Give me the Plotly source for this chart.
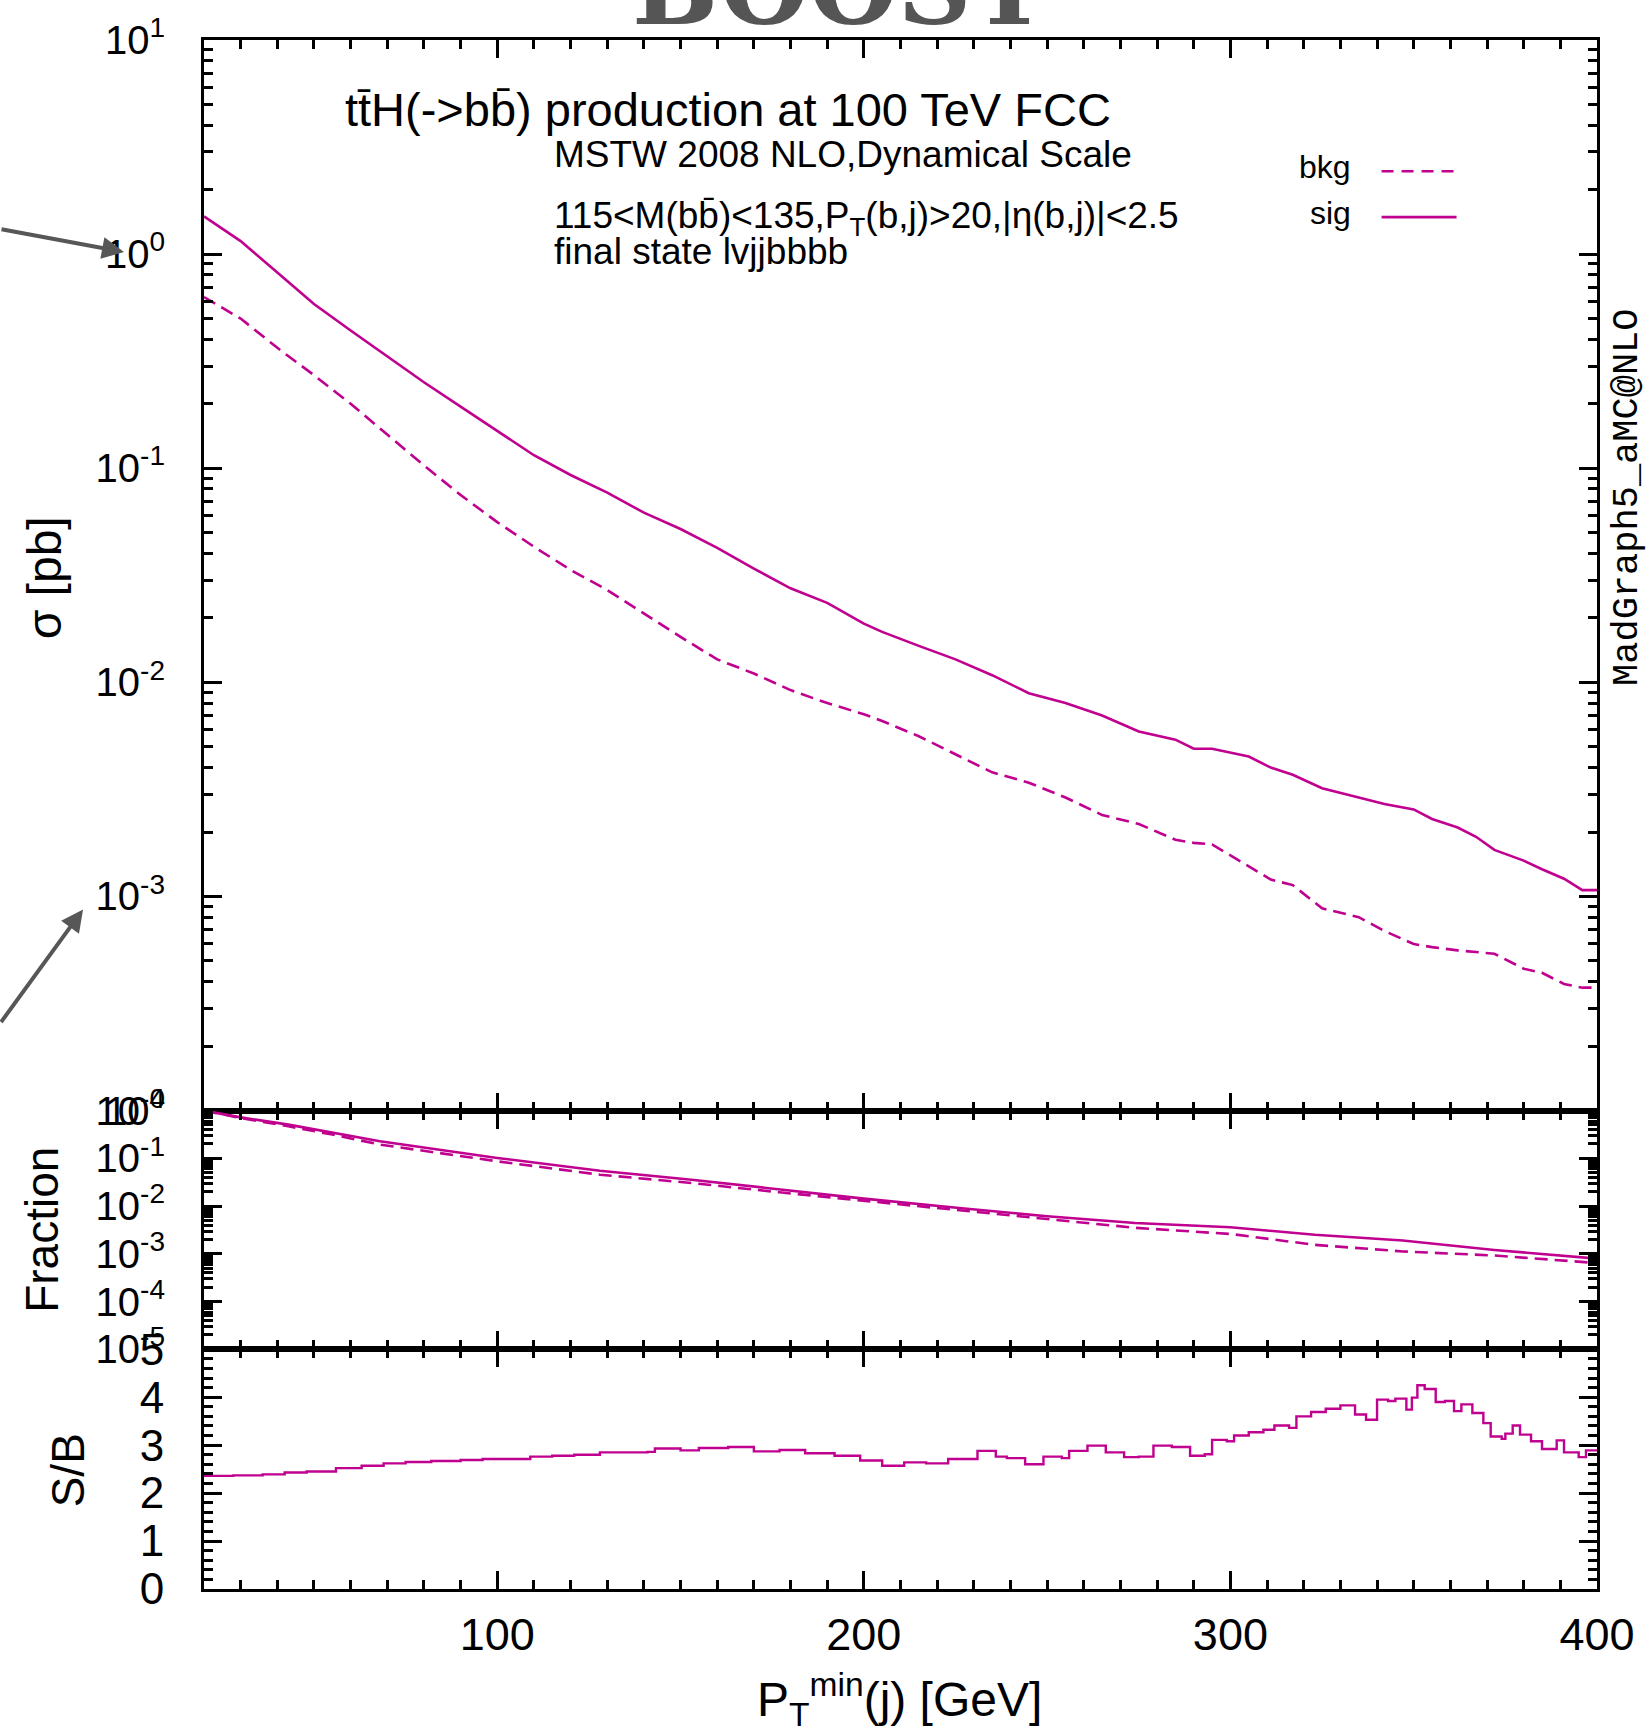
import plotly.graph_objects as go
from plotly.subplots import make_subplots

# ---------------- data ----------------
pt_main = [20, 30, 40, 50, 60, 70, 80, 90, 100, 110, 120, 130, 140, 150, 160, 170, 180, 190, 200,
           205, 215, 225, 235, 245, 255, 265, 275, 285, 290, 295, 305, 311, 317, 325, 335, 342,
           350, 355, 362, 367, 372, 380, 385, 391, 396, 400]
sig_xs = [1.50, 1.15, 0.82, 0.585, 0.44, 0.333, 0.252, 0.194, 0.149, 0.115, 0.093, 0.077, 0.062,
          0.052, 0.0425, 0.034, 0.0275, 0.0235, 0.0188,
          0.0172, 0.0148, 0.0128, 0.0108, 0.0089, 0.0080, 0.0070, 0.0059, 0.0054, 0.0049, 0.0049,
          0.0045, 0.0040, 0.0037, 0.0032, 0.0029, 0.0027, 0.00255, 0.0023, 0.0021, 0.0019,
          0.00165, 0.00147, 0.00134, 0.00121, 0.00107, 0.00107]
bkg_xs = [0.63, 0.50, 0.365, 0.272, 0.200, 0.143, 0.103, 0.075, 0.056, 0.043, 0.0335, 0.027, 0.021,
          0.0163, 0.0128, 0.0110, 0.0092, 0.0080, 0.0071,
          0.0066, 0.0056, 0.0046, 0.0038, 0.0034, 0.0029, 0.0024, 0.00218, 0.00184, 0.00178,
          0.00175, 0.00139, 0.00120, 0.00113, 0.00088, 0.00080, 0.00069, 0.00060, 0.00058,
          0.00056, 0.00055, 0.00054, 0.00046, 0.00044, 0.00039, 0.000375, 0.000375]

pt_frac = [20, 30, 43, 55, 68, 100, 128, 153, 177, 200, 226, 250, 274, 300, 323, 347, 372, 400]
sig_frac = [1.0, 0.72, 0.508, 0.34, 0.227, 0.1016, 0.055, 0.0356, 0.022, 0.0143, 0.0091, 0.0061,
            0.0044, 0.0036, 0.0025, 0.0019, 0.0012, 0.00079]
bkg_frac = [1.0, 0.70, 0.469, 0.314, 0.194, 0.0865, 0.0454, 0.0304, 0.0194, 0.0129, 0.0080, 0.0052,
            0.0035, 0.0026, 0.00154, 0.00112, 0.00092, 0.00064]

pt_sb = [20, 28, 36, 42, 48, 56, 63, 69, 75, 82, 90, 96, 102, 109, 115, 121, 128, 135, 141, 143,
         150, 155, 163, 170, 177, 184, 192, 199, 205, 211, 217, 223, 231, 236, 239, 244, 249, 254,
         256, 261, 266, 271, 275, 279, 284, 289, 293, 295, 299, 301, 305, 309, 312, 316, 318, 322,
         326, 330, 334, 337, 340, 343, 345, 348, 349.5, 351, 353, 356, 358.5, 361, 363, 366, 369,
         371, 374, 375, 377, 379, 382, 385, 389, 391, 395, 397, 400]
s_over_b = [2.36, 2.37, 2.39, 2.43, 2.45, 2.52, 2.57, 2.62, 2.65, 2.67, 2.69, 2.71, 2.71, 2.76,
            2.78, 2.80, 2.85, 2.85, 2.86, 2.93, 2.89, 2.94, 2.96, 2.87, 2.90, 2.83, 2.78, 2.68,
            2.57, 2.64, 2.62, 2.71, 2.88, 2.76, 2.73, 2.60, 2.76, 2.73, 2.88, 2.99, 2.85, 2.75,
            2.76, 2.99, 2.96, 2.78, 2.81, 3.11, 3.08, 3.20, 3.27, 3.32, 3.41, 3.36, 3.60, 3.69,
            3.76, 3.83, 3.64, 3.53, 3.95, 3.92, 3.97, 3.74, 3.99, 4.25, 4.17, 3.90, 3.92, 3.71,
            3.85, 3.67, 3.46, 3.18, 3.13, 3.24, 3.41, 3.22, 3.08, 2.92, 3.10, 2.85, 2.75, 2.89,
            2.89]

main_tickvals = [1e-4, 1e-3, 1e-2, 1e-1, 1, 10]
main_ticktext = ["10<sup>-4</sup>", "10<sup>-3</sup>", "10<sup>-2</sup>", "10<sup>-1</sup>",
                 "10<sup>0</sup>", "10<sup>1</sup>"]
frac_tickvals = [1e-5, 1e-4, 1e-3, 1e-2, 1e-1, 1]
frac_ticktext = ["10<sup>-5</sup>", "10<sup>-4</sup>", "10<sup>-3</sup>", "10<sup>-2</sup>",
                 "10<sup>-1</sup>", "10<sup>0</sup>"]
sb_tickvals = [0, 1, 2, 3, 4, 5]
x_tickvals = [100, 200, 300, 400]

# ---------------- style ----------------
MAG = "#C0008F"
FONT = "Liberation Sans, Arial, Helvetica, sans-serif"
W, H = 1651, 1736
L, R, T, B = 204, 1597.5, 36.5, 1589
PW, PH = R - L, B - T


def px(x):
    return (x - L) / PW


def py(y):
    return 1 - (y - T) / PH


fig = make_subplots(rows=3, cols=1, shared_xaxes=True, vertical_spacing=0,
                    row_heights=[1073, 239.2, 240.3])

fig.add_trace(go.Scatter(x=pt_main, y=bkg_xs, mode="lines", name="bkg",
                         line=dict(color=MAG, width=2.6, dash="13px,7px"), showlegend=False),
              row=1, col=1)
fig.add_trace(go.Scatter(x=pt_main, y=sig_xs, mode="lines", name="sig",
                         line=dict(color=MAG, width=2.6), showlegend=False), row=1, col=1)
fig.add_trace(go.Scatter(x=pt_frac, y=bkg_frac, mode="lines", name="bkg fraction",
                         line=dict(color=MAG, width=2.6, dash="13px,7px"), showlegend=False),
              row=2, col=1)
fig.add_trace(go.Scatter(x=pt_frac, y=sig_frac, mode="lines", name="sig fraction",
                         line=dict(color=MAG, width=2.6), showlegend=False), row=2, col=1)
fig.add_trace(go.Scatter(x=pt_sb, y=s_over_b, mode="lines", name="S/B", line_shape="hv",
                         line=dict(color=MAG, width=2.4), showlegend=False), row=3, col=1)

axis_common = dict(showline=True, linecolor="black", linewidth=3, mirror="ticks",
                   ticks="inside", tickcolor="black", tickwidth=2.5, showgrid=False,
                   zeroline=False)

minor_main = [m * 10 ** e for e in range(-4, 1) for m in range(2, 10)]
minor_frac = [m * 10 ** e for e in range(-5, 0) for m in range(2, 10)]

for r in (1, 2, 3):
    fig.update_xaxes(range=[20, 400], tickmode="array", tickvals=x_tickvals,
                     ticklen=18, minor=dict(dtick=10, tick0=0, ticks="inside", ticklen=9,
                                            tickwidth=2.5, tickcolor="black"),
                     showticklabels=(r == 3), ticklabelstandoff=4,
                     tickfont=dict(family=FONT, size=45, color="black"),
                     row=r, col=1, **axis_common)

yfont = dict(family=FONT, size=40, color="black")
fig.update_yaxes(type="log", range=[-4, 1], tickmode="array", tickvals=main_tickvals,
                 ticktext=main_ticktext, ticklen=18, ticklabelstandoff=28, tickfont=yfont,
                 minor=dict(tickmode="array", tickvals=minor_main, ticks="inside", ticklen=9,
                            tickwidth=2.5, tickcolor="black"),
                 row=1, col=1, **axis_common)
fig.update_yaxes(type="log", range=[-5, 0], tickmode="array", tickvals=frac_tickvals,
                 ticktext=frac_ticktext, ticklen=18, ticklabelstandoff=28, tickfont=yfont,
                 minor=dict(tickmode="array", tickvals=minor_frac, ticks="inside", ticklen=9,
                            tickwidth=2.5, tickcolor="black"),
                 row=2, col=1, **axis_common)
fig.update_yaxes(range=[0, 5], tickmode="array", tickvals=sb_tickvals, ticklen=18,
                 ticklabelstandoff=28, tickfont=dict(family=FONT, size=44, color="black"),
                 minor=dict(dtick=0.2, tick0=0, ticks="inside", ticklen=9, tickwidth=2.5,
                            tickcolor="black"),
                 row=3, col=1, **axis_common)

ann = []


def text(x, y, s, size, xanchor="left", yanchor="middle", family=FONT, angle=0,
         color="black", weight="normal"):
    ann.append(dict(x=px(x), y=py(y), xref="paper", yref="paper", text=s, showarrow=False,
                    xanchor=xanchor, yanchor=yanchor, textangle=angle,
                    font=dict(family=family, size=size, color=color, weight=weight)))


text(343, 106, "tt\u0304H(-&gt;bb\u0304) production at 100 TeV FCC", 47)
text(552, 151, "MSTW 2008 NLO,Dynamical Scale", 37)
text(552, 215, "115&lt;M(bb\u0304)&lt;135,P<sub>T</sub>(b,j)&gt;20,|\u03b7(b,j)|&lt;2.5", 37)
text(552, 248, "final state lvjjbbbb", 37)
text(1353, 164, "bkg", 32, xanchor="right")
text(1353, 210, "sig", 32, xanchor="right")
text(1628, 495, "MadGraph5_aMC@NLO", 37, xanchor="center",
     family="Liberation Mono, Courier New, monospace", angle=-90)
text(44, 576, "\u03c3 [pb]", 48, xanchor="center", angle=-90)
text(42, 1229, "Fraction", 46, xanchor="center", angle=-90)
text(68, 1470, "S/B", 46, xanchor="center", angle=-90)
text(900, 1700, "P<sub>T</sub><sup>min</sup>(j) [GeV]", 48, xanchor="center")
# slide title cut off at the top of the page
text(840, 47, "BOOST", 102, xanchor="center", yanchor="bottom",
     family="DejaVu Serif, Liberation Serif, serif", color="#555555", weight="bold")

# presentation arrows at the left edge
for hx, hy, tx, ty in [(124, 249, -10, 226), (83, 908, -10, 1022)]:
    ann.append(dict(x=px(hx), y=py(hy), xref="paper", yref="paper", text="", showarrow=True,
                    ax=tx - hx, ay=ty - hy, arrowcolor="#575757", arrowwidth=4, arrowhead=2,
                    arrowsize=1.1))

shapes = [
    dict(type="line", xref="paper", yref="paper", x0=px(1382), x1=px(1454), y0=py(168), y1=py(168),
         line=dict(color=MAG, width=2.6, dash="12px,8px")),
    dict(type="line", xref="paper", yref="paper", x0=px(1382), x1=px(1457), y0=py(214), y1=py(214),
         line=dict(color=MAG, width=2.6)),
]

fig.update_layout(width=W, height=H, autosize=False, paper_bgcolor="white", plot_bgcolor="white",
                  margin=dict(l=L, r=W - R, t=T, b=H - B, pad=0), annotations=ann, shapes=shapes,
                  showlegend=False, font=dict(family=FONT, color="black"))

fig.write_html("out.html", config={"displayModeBar": False},
               post_script="document.body.style.margin='0';document.body.style.overflow='hidden';")
